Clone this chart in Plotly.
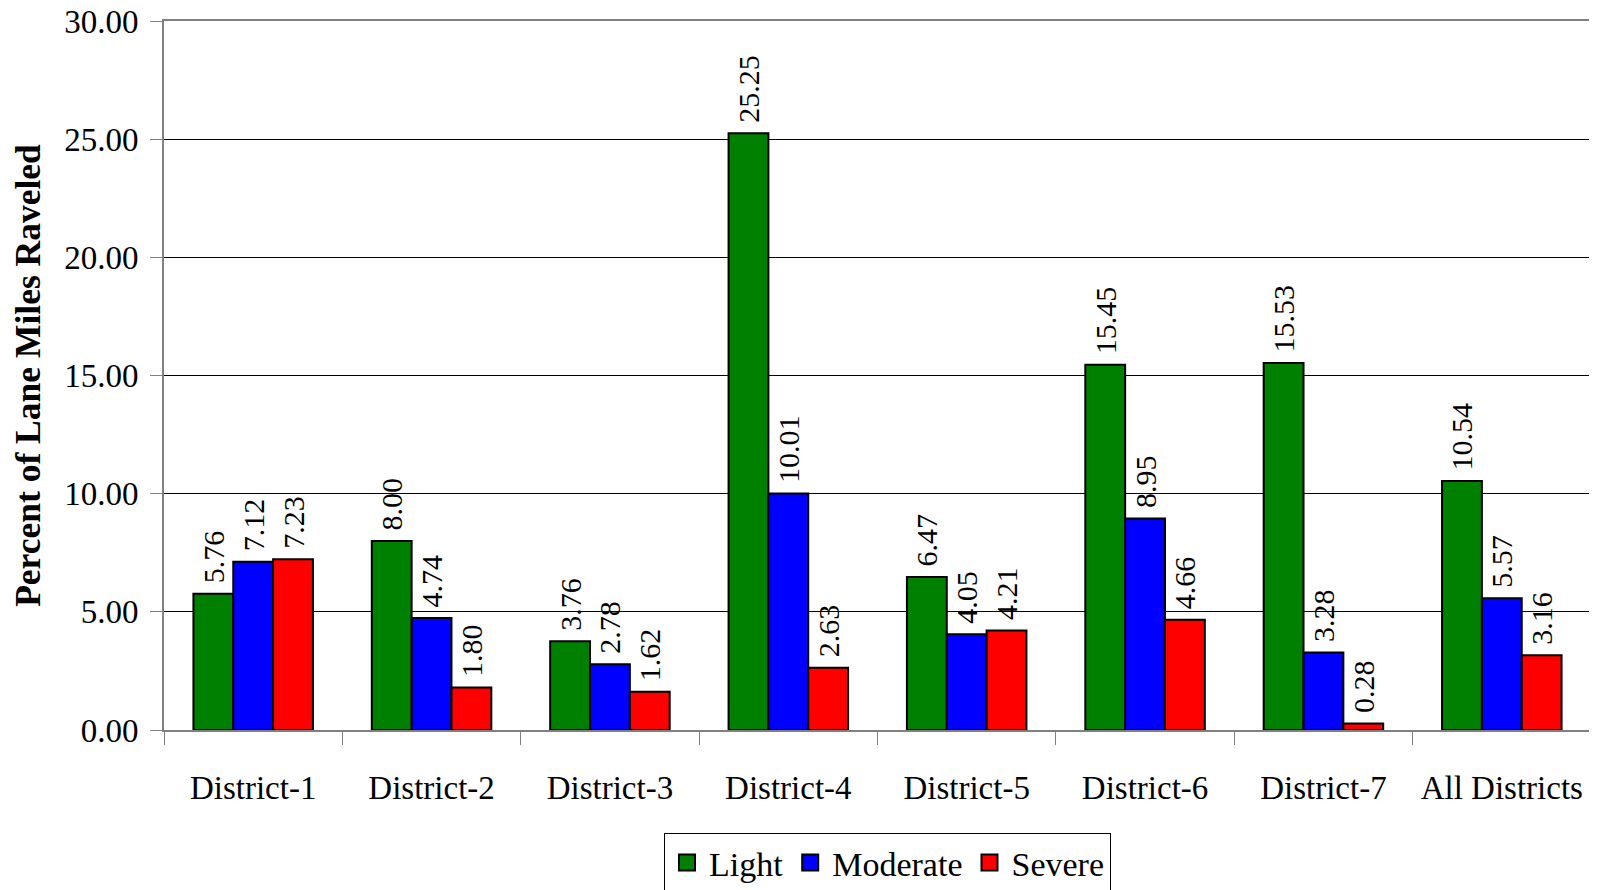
import plotly.graph_objects as go

categories = ["District-1", "District-2", "District-3", "District-4", "District-5",
              "District-6", "District-7", "All Districts"]
light = [5.76, 8.00, 3.76, 25.25, 6.47, 15.45, 15.53, 10.54]
moderate = [7.12, 4.74, 2.78, 10.01, 4.05, 8.95, 3.28, 5.57]
severe = [7.23, 1.80, 1.62, 2.63, 4.21, 4.66, 0.28, 3.16]
series_names = ["Light", "Moderate", "Severe"]
colors = ["#008000", "#0000FF", "#FF0000"]
y_ticks = [0, 5, 10, 15, 20, 25, 30]

FONT = "Liberation Serif, Times New Roman, serif"

fig = go.Figure()
for name, vals, col in zip(series_names, [light, moderate, severe], colors):
    fig.add_trace(go.Bar(
        x=categories, y=vals, name=name, showlegend=False,
        marker=dict(color=col, line=dict(color="black", width=2)),
        texttemplate="\u00a0%{y:.2f}", textposition="outside", textangle=-90,
        textfont=dict(family=FONT, size=30, color="black"),
        cliponaxis=False, constraintext="none",
    ))
# legend entries with large square swatches
for name, col in zip(series_names, colors):
    fig.add_trace(go.Scatter(
        x=[None], y=[None], mode="markers", name=name,
        marker=dict(symbol="square", size=22, color=col, line=dict(color="black", width=2)),
    ))

fig.update_layout(
    width=1597, height=890,
    margin=dict(l=156, r=14, t=13, b=168, autoexpand=False),
    paper_bgcolor="white", plot_bgcolor="white",
    barmode="group", bargap=0.33, bargroupgap=0,
    font=dict(family=FONT, color="black"),
    showlegend=True,
    legend=dict(
        orientation="h", x=0.507, xanchor="center", y=-0.145, yanchor="top",
        font=dict(family=FONT, size=34, color="black"),
        bordercolor="black", borderwidth=1, bgcolor="white",
        itemsizing="trace", traceorder="normal", itemwidth=34,
        tracegroupgap=0,
    ),
)

fig.update_yaxes(
    range=[0, 30], tickvals=y_ticks, tickformat=".2f",
    showgrid=True, gridcolor="black", gridwidth=1,
    zeroline=False, automargin=False,
    showline=True, linecolor="#808080", linewidth=2, mirror=True,
    ticks="outside", ticklen=12, tickcolor="#808080", tickwidth=1,
    tickfont=dict(family=FONT, size=33, color="black"),
    ticklabelstandoff=5, ticklabeloverflow="allow",
    title=dict(text="<b>Percent of Lane Miles Raveled</b>",
               font=dict(family=FONT, size=35.5, color="black"), standoff=19),
)
fig.update_xaxes(
    showgrid=False, automargin=False,
    showline=True, linecolor="#808080", linewidth=2, mirror=True,
    ticks="outside", tickson="boundaries", ticklen=13, tickcolor="#808080", tickwidth=1,
    tickfont=dict(family=FONT, size=33, color="black"),
    ticklabelstandoff=27, ticklabeloverflow="allow",
)

fig.write_html("out.html")
